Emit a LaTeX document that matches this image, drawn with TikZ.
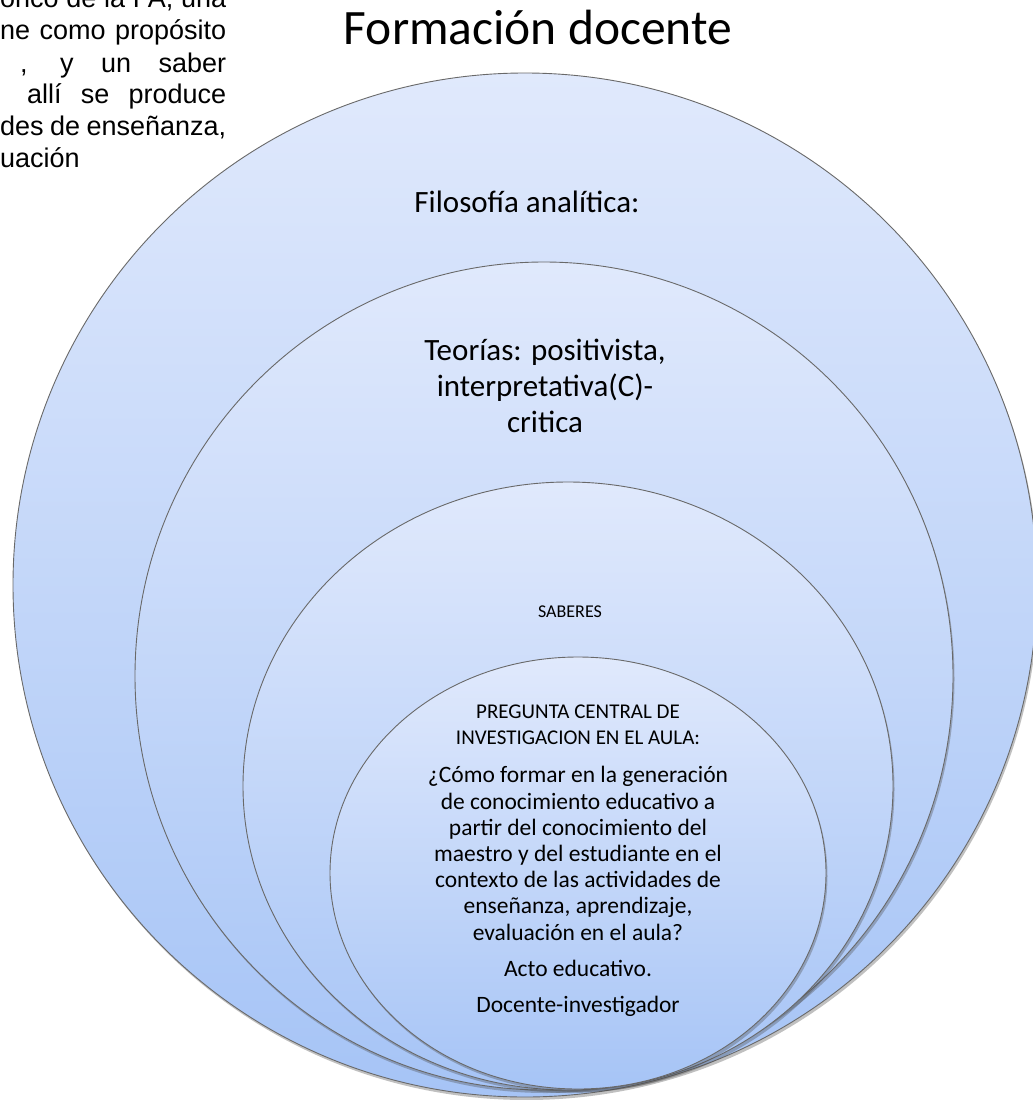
\documentclass[tikz,border=0pt]{standalone}
\usepackage{fontspec}
\setmainfont{Carlito}
\newfontfamily\arialf{Liberation Sans}
\usetikzlibrary{shapes.geometric,shadows}
\definecolor{ctop}{RGB}{224,233,252}
\definecolor{cbot}{RGB}{166,196,246}
\definecolor{edgec}{RGB}{105,105,105}
\begin{document}
\begin{tikzpicture}[x=1pt,y=-1pt,
  ring/.style={ellipse, draw=edgec, line width=0.9pt, top color=ctop, bottom color=cbot,
    inner sep=0pt, drop shadow={shadow xshift=1.5pt, shadow yshift=-3pt, opacity=0.35, fill=black!70}},
  para/.style={inner sep=0pt, font=\arialf\fontsize{27}{32}\selectfont, anchor=base west},
  big/.style={inner sep=0pt, align=center, font=\fontsize{31}{36}\selectfont},
  small/.style={inner sep=0pt, align=center, font=\fontsize{21}{26.5}\selectfont},
  mid/.style={inner sep=0pt, align=center, font=\fontsize{23.5}{26.2}\selectfont}
]
\useasboundingbox (0,0) rectangle (1033,1100);
\clip (0,0) rectangle (1033,1100);
\fill[white] (0,0) rectangle (1033,1100);

% paragraph (cut off at left)
\node[para] (p1) at (0,7) {\makebox[226pt][s]{onco de la FA, una}};
\node[para] (p2) at (0,39) {\makebox[226pt][s]{ne como propósito}};
\node[para] (p3) at (20,72) {\makebox[206pt][s]{, y un saber}};
\node[para] (p4) at (27,103) {\makebox[199pt][s]{allí se produce}};
\node[para] (p5) at (0,135) {\makebox[226pt][s]{des de enseñanza,}};
\node[para] (p6) at (0,167) {uación};

% title
\node[inner sep=0pt, font=\fontsize{49.5}{58}\selectfont] (title) at (538,27) {Formación docente};

% nested ellipses
\node[ring, minimum width=1024pt, minimum height=1024pt] (e1) at (525,585) {};
\node[ring, minimum width=818pt, minimum height=828pt] (e2) at (544,676) {};
\node[ring, minimum width=650pt, minimum height=608pt] (e3) at (568,786) {};
\node[ring, minimum width=496pt, minimum height=432pt] (e4) at (578,873) {};

% labels
\node[big] (t1) at (527,202) {Filosofía analítica:};
\node[big] (t2) at (545,386) {Teorías: positivista,\\interpretativa(C)-\\critica};
\node[inner sep=0pt, font=\fontsize{18}{22}\selectfont] (t3) at (570,612) {SABERES};
\node[small] (t4) at (578,725) {PREGUNTA CENTRAL DE\\INVESTIGACION EN EL AULA:};
\node[mid] (t5) at (578,853.5) {¿Cómo formar en la generación\\de conocimiento educativo a\\partir del conocimiento del\\maestro y del estudiante en el\\contexto de las actividades de\\enseñanza, aprendizaje,\\evaluación en el aula?};
\node[mid] (t6) at (578,968) {Acto educativo.};
\node[mid] (t7) at (578,1006) {Docente-investigador};
\end{tikzpicture}
\end{document}
